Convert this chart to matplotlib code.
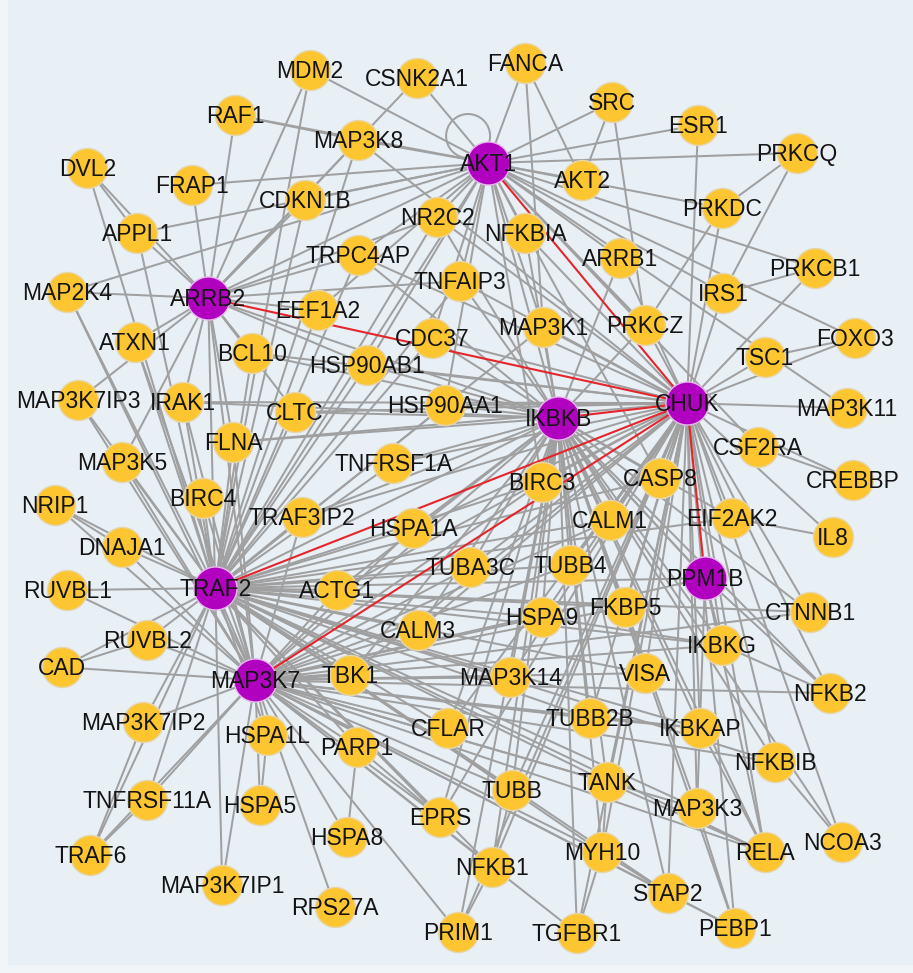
import matplotlib
matplotlib.use("Agg")
import matplotlib.pyplot as plt
from matplotlib.collections import LineCollection
from matplotlib.patches import Circle

# ---------------- data ----------------
hubs = ["AKT1", "ARRB2", "IKBKB", "CHUK", "TRAF2", "MAP3K7", "PPM1B"]

node_names = [
    "AKT1", "ARRB2", "IKBKB", "CHUK", "TRAF2", "MAP3K7", "PPM1B",
    "MDM2", "CSNK2A1", "FANCA", "SRC", "RAF1", "ESR1", "MAP3K8", "PRKCQ", "DVL2",
    "AKT2", "FRAP1", "CDKN1B", "PRKDC", "NR2C2", "APPL1", "NFKBIA", "TRPC4AP",
    "ARRB1", "PRKCB1", "TNFAIP3", "MAP2K4", "IRS1", "EEF1A2", "PRKCZ", "MAP3K1",
    "FOXO3", "CDC37", "ATXN1", "BCL10", "TSC1", "HSP90AB1", "MAP3K7IP3", "IRAK1",
    "HSP90AA1", "MAP3K11", "CLTC", "FLNA", "CSF2RA", "MAP3K5", "TNFRSF1A", "CASP8",
    "BIRC3", "CREBBP", "BIRC4", "NRIP1", "TRAF3IP2", "EIF2AK2", "CALM1", "HSPA1A",
    "IL8", "DNAJA1", "TUBB4", "TUBA3C", "RUVBL1", "ACTG1", "FKBP5", "CTNNB1",
    "HSPA9", "CALM3", "RUVBL2", "IKBKG", "CAD", "VISA", "TBK1", "MAP3K14", "NFKB2",
    "TUBB2B", "MAP3K7IP2", "CFLAR", "IKBKAP", "HSPA1L", "PARP1", "NFKBIB", "TANK",
    "TUBB", "TNFRSF11A", "HSPA5", "MAP3K3", "EPRS", "HSPA8", "NCOA3", "MYH10", "RELA",
    "TRAF6", "NFKB1", "MAP3K7IP1", "STAP2", "RPS27A", "PEBP1", "PRIM1", "TGFBR1",
]
# layout coordinates (pixel space, y downward)
node_x = [
    488, 208, 558, 687, 215, 255, 705,
    310, 417, 525, 612, 235, 698, 358, 797, 87,
    582, 192, 305, 722, 437, 137, 525, 358,
    620, 815, 460, 67, 723, 318, 645, 543,
    855, 432, 135, 252, 765, 367, 78, 183,
    445, 847, 295, 233, 758, 122, 393, 660,
    542, 853, 203, 55, 302, 732, 610, 413,
    833, 122, 570, 470, 67, 337, 625, 810,
    542, 418, 147, 722, 62, 645, 350, 510, 830,
    590, 143, 448, 700, 267, 357, 775, 607,
    512, 147, 260, 697, 440, 347, 842, 602, 765,
    90, 492, 222, 668, 335, 735, 458, 577,
]
node_y = [
    163, 298, 418, 403, 588, 680, 578,
    70, 78, 63, 102, 115, 125, 140, 153, 168,
    180, 185, 200, 208, 217, 233, 233, 255,
    258, 268, 281, 292, 293, 310, 325, 327,
    338, 338, 342, 353, 357, 365, 400, 402,
    405, 408, 412, 442, 447, 462, 463, 478,
    482, 480, 498, 505, 517, 518, 520, 528,
    537, 547, 565, 567, 590, 590, 607, 612,
    617, 630, 640, 645, 667, 673, 675, 677, 693,
    718, 722, 728, 728, 735, 747, 762, 782,
    790, 800, 805, 808, 817, 837, 842, 852, 852,
    855, 867, 885, 893, 907, 928, 932, 933,
]

red_edges = [("CHUK", "AKT1"), ("CHUK", "ARRB2"), ("CHUK", "IKBKB"),
             ("CHUK", "TRAF2"), ("CHUK", "MAP3K7"), ("CHUK", "PPM1B")]

nbr_AKT1 = ["MDM2", "CSNK2A1", "FANCA", "SRC", "ESR1", "PRKCQ", "PRKDC", "AKT2", "MAP3K8",
            "RAF1", "FRAP1", "CDKN1B", "APPL1", "MAP2K4", "NR2C2", "TRPC4AP", "TNFAIP3",
            "NFKBIA", "ARRB1", "PRKCZ", "MAP3K1", "IRS1", "MAP3K11", "FOXO3", "PRKCB1",
            "CDC37", "HSP90AA1", "HSP90AB1", "IKBKB", "ARRB2", "TRAF2", "CASP8", "CSF2RA",
            "BIRC3", "EEF1A2"]
nbr_ARRB2 = ["DVL2", "APPL1", "MAP2K4", "RAF1", "FRAP1", "MDM2", "CSNK2A1", "CDKN1B",
             "MAP3K8", "TRPC4AP", "NR2C2", "EEF1A2", "BCL10", "ATXN1", "IRAK1", "FLNA",
             "TRAF2", "MAP3K7", "IKBKB", "TNFAIP3", "MAP3K7IP3", "CLTC", "HSP90AB1", "MAP3K5"]
nbr_IKBKB = ["TRAF2", "MAP3K7", "NFKBIA", "TNFAIP3", "MAP3K1", "ARRB1", "PRKCZ", "CDC37",
             "HSP90AA1", "HSP90AB1", "TNFRSF1A", "BIRC3", "CASP8", "CALM1", "TUBB4", "TUBA3C",
             "HSPA1A", "CALM3", "HSPA9", "FKBP5", "MAP3K14", "TUBB2B", "VISA", "TANK", "TUBB",
             "NFKB1", "MYH10", "TGFBR1", "IKBKG", "IKBKAP", "MAP3K3", "RELA", "NFKBIB", "NFKB2",
             "CTNNB1", "EIF2AK2", "CFLAR", "TBK1", "PEBP1", "STAP2", "NR2C2", "TRPC4AP", "CLTC",
             "BCL10", "IRAK1", "TRAF3IP2", "PPM1B", "NCOA3", "ACTG1", "EPRS", "PRIM1", "FLNA"]
nbr_CHUK = ["ESR1", "PRKDC", "PRKCZ", "IRS1", "TSC1", "FOXO3", "PRKCB1", "MAP3K11", "CREBBP",
            "IL8", "EIF2AK2", "CTNNB1", "NFKB2", "NCOA3", "NFKBIB", "RELA", "IKBKG", "IKBKAP",
            "MAP3K3", "PEBP1", "STAP2", "TANK", "MYH10", "TGFBR1", "VISA", "FKBP5", "CASP8",
            "CALM1", "TUBB4", "BIRC3", "TUBB2B", "TUBB", "NFKB1", "MAP3K14", "HSPA9", "TUBA3C",
            "HSPA1A", "TNFRSF1A", "HSP90AA1", "HSP90AB1", "CDC37", "MAP3K1", "TNFAIP3", "NFKBIA",
            "ARRB1", "CLTC", "NR2C2", "TRPC4AP", "MAP3K8", "CALM3", "CFLAR", "TBK1", "PRIM1",
            "EPRS", "BCL10", "IRAK1", "FLNA", "TRAF3IP2", "ACTG1"]
nbr_TRAF2 = ["MAP3K7", "DVL2", "APPL1", "MAP2K4", "MDM2", "CDKN1B", "MAP3K8", "NR2C2",
             "TRPC4AP", "EEF1A2", "ATXN1", "MAP3K7IP3", "IRAK1", "BCL10", "FLNA", "CLTC",
             "MAP3K5", "BIRC4", "NRIP1", "DNAJA1", "RUVBL1", "RUVBL2", "CAD", "MAP3K7IP2",
             "TNFRSF11A", "TRAF6", "TRAF3IP2", "TNFRSF1A", "HSPA1A", "ACTG1", "CALM3", "TBK1",
             "MAP3K14", "BIRC3", "TUBA3C", "TUBB4", "HSPA9", "CFLAR", "TANK", "TUBB", "VISA",
             "TUBB2B", "FKBP5", "CALM1", "CASP8", "IKBKG", "IKBKAP", "HSP90AA1", "HSP90AB1",
             "CDC37", "MAP3K1", "TNFAIP3", "HSPA1L", "PARP1", "EPRS", "NFKB1", "MAP3K3", "RELA",
             "MYH10", "STAP2", "NFKBIB", "EIF2AK2", "CTNNB1", "MAP3K7IP1"]
nbr_MAP3K7 = ["CAD", "MAP3K7IP2", "TNFRSF11A", "TRAF6", "HSPA1L", "HSPA5", "HSPA8", "RPS27A",
              "MAP3K7IP1", "PARP1", "TBK1", "CFLAR", "EPRS", "TUBB", "MAP3K14", "NFKB1", "TANK",
              "MYH10", "MAP3K3", "RELA", "IKBKAP", "VISA", "TUBB2B", "RUVBL2", "RUVBL1",
              "DNAJA1", "NRIP1", "MAP3K5", "MAP3K7IP3", "IRAK1", "MAP2K4", "ATXN1", "BIRC4",
              "FLNA", "HSPA9", "CALM3", "ACTG1", "FKBP5", "IKBKG", "TUBB4", "CALM1", "NFKBIB",
              "CTNNB1", "NFKB2", "PRIM1", "TGFBR1", "STAP2", "PEBP1", "BIRC3", "TUBA3C",
              "HSPA1A", "TRAF3IP2"]
nbr_PPM1B = ["IKBKB", "TRAF2", "MAP3K7", "IKBKG", "NFKB2", "RELA", "MAP3K3"]

extra_edges = [("DVL2", "APPL1"), ("PRKCQ", "PRKDC"), ("PRKCQ", "IRS1"), ("AKT2", "FANCA"),
               ("AKT2", "SRC"), ("SRC", "PRKCZ"), ("FANCA", "MAP3K1"), ("PRKDC", "PRKCZ"),
               ("PRKCB1", "IRS1"), ("FOXO3", "TSC1"), ("EIF2AK2", "IL8"),
               ("TRAF6", "TNFRSF11A"), ("TRAF6", "MAP3K7IP2"), ("CAD", "RUVBL2"),
               ("NRIP1", "DNAJA1"), ("HSPA8", "PARP1"), ("PARP1", "EPRS"), ("STAP2", "PEBP1"),
               ("MYH10", "STAP2"), ("MYH10", "TGFBR1"), ("MAP3K3", "PEBP1"), ("NFKB1", "PRIM1"),
               ("TANK", "MYH10"), ("TUBB2B", "IKBKAP"), ("IKBKG", "HSPA9"), ("NFKBIB", "NCOA3"),
               ("IKBKG", "NFKB2"), ("IKBKAP", "RELA"), ("TUBB", "NFKB1"), ("RAF1", "MAP3K8"),
               ("CSF2RA", "CREBBP"), ("HSPA5", "HSPA1L"), ("TANK", "RELA")]

self_loops = ["AKT1"]

# ---------------- drawing ----------------
pos = {n: (x, y) for n, x, y in zip(node_names, node_x, node_y)}

gray_edges = []
for hub, nbrs in [("AKT1", nbr_AKT1), ("ARRB2", nbr_ARRB2), ("IKBKB", nbr_IKBKB),
                  ("CHUK", nbr_CHUK), ("TRAF2", nbr_TRAF2), ("MAP3K7", nbr_MAP3K7),
                  ("PPM1B", nbr_PPM1B)]:
    for n in nbrs:
        gray_edges.append((hub, n))
gray_edges += extra_edges

fig = plt.figure(figsize=(9.13, 9.73), dpi=100)
fig.patch.set_facecolor("#f1f5f8")
ax = fig.add_axes([0.009, 0.008, 0.991, 0.992])
ax.set_facecolor("#e8eff5")
ax.set_xlim(8, 913)
ax.set_ylim(965, 0)
ax.set_xticks([])
ax.set_yticks([])
for s in ax.spines.values():
    s.set_visible(False)

gsegs = [[pos[a], pos[b]] for a, b in gray_edges]
ax.add_collection(LineCollection(gsegs, colors="#a0a0a0", linewidths=1.45, zorder=1))

for n in self_loops:
    x, y = pos[n]
    ax.add_patch(Circle((x - 20, y - 27), 22, fill=False, edgecolor="#a0a0a0",
                        linewidth=1.45, zorder=1))

rsegs = [[pos[a], pos[b]] for a, b in red_edges]
ax.add_collection(LineCollection(rsegs, colors="#e3262c", linewidths=1.5, zorder=2))

yel = [n for n in node_names if n not in hubs]
ax.scatter([pos[n][0] for n in yel], [pos[n][1] for n in yel], s=830,
           c="#fdc52f", edgecolors="#e6d6ac", linewidths=1.0, zorder=3)
ax.scatter([pos[n][0] for n in hubs], [pos[n][1] for n in hubs], s=960,
           c="#b100bf", edgecolors="#e7b8ee", linewidths=1.0, zorder=3)

for n in node_names:
    x, y = pos[n]
    ax.text(x, y + 1, n, ha="center", va="center", fontsize=16.5,
            family=["Liberation Sans", "DejaVu Sans"], color="#141414", zorder=4)

fig.savefig("out.png", dpi=100, facecolor=fig.get_facecolor())
